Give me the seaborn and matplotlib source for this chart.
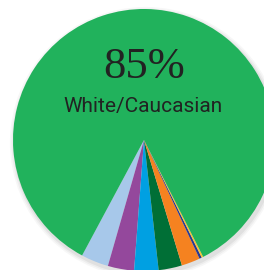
import matplotlib
matplotlib.use("Agg")
import matplotlib.pyplot as plt
import seaborn as sns
from matplotlib.patches import Circle

# share of each group, counter-clockwise from the bottom-left
groups = ["Asian", "Hispanic/Latino", "Black/African American", "Two or more races",
          "Other", "American Indian", "Pacific Islander", "White/Caucasian"]
shares = [3.4, 3.25, 3.0, 2.9, 2.3, 0.3, 0.2, 85.0]
colors = ["#a7c8ea", "#94489c", "#00a0e2", "#006f36", "#f58220", "#2b3990", "#fcc22d", "#21b25c"]

big_label = "85%"
big_name = "White/Caucasian"

sns.set_theme(style="white")

fig = plt.figure(figsize=(2.64, 2.70), dpi=100)
ax = fig.add_axes([0, 0, 1, 1])

# soft shadow under the pie
for i, a in enumerate([0.05, 0.04, 0.03]):
    ax.add_patch(Circle((0.012, -0.02), 1.0 + 0.012 * (i + 1), color="black", alpha=a, lw=0, zorder=0))

ax.pie(shares, colors=colors, startangle=241.8, counterclock=True,
       wedgeprops=dict(linewidth=0), radius=1.0)

ax.text(0, 0.473, big_label, ha="center", va="baseline", fontsize=32,
        family="Liberation Serif", color="#222222")
ax.text(-0.005, 0.214, big_name, ha="center", va="baseline", fontsize=15,
        family=["Roboto", "DejaVu Sans"], color="#222222")

r = 131.0
ax.set_xlim(-144 / r, 120 / r)
ax.set_ylim(-130 / r, 140 / r)
ax.set_aspect("auto")
ax.axis("off")

fig.savefig("out.png", dpi=100)
